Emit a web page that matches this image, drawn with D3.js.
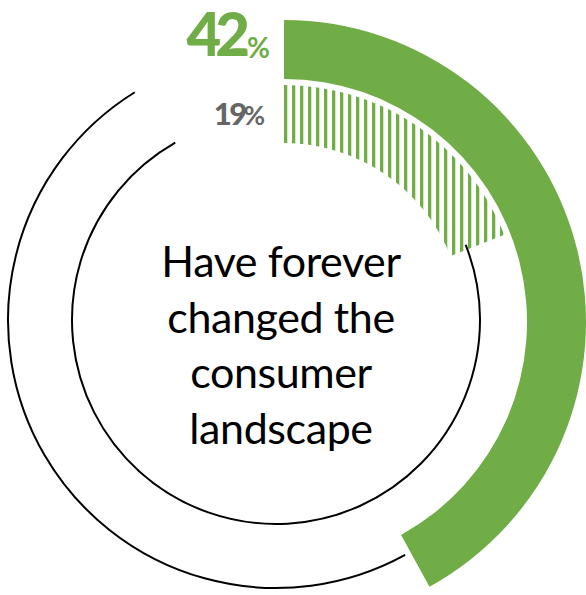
<!DOCTYPE html>
<html>
<head>
<meta charset="utf-8">
<script src="https://cdn.jsdelivr.net/npm/d3@7"></script>
<style>
  html, body { margin: 0; padding: 0; background: #fff; }
  svg { display: block; }
</style>
</head>
<body>
<svg id="chart" width="586" height="595"></svg>
<script>
// Share of respondents per ring (percent), outer ring first
const rings = ["outer", "inner"];
const values = [42, 19];
const valueLabels = ["42", "19"];
const centerText = ["Have forever", "changed the", "consumer", "landscape"];

const green = "#70ad47";
const svg = d3.select("#chart");

// full turn = 100%
const angle = d3.scaleLinear().domain([0, 100]).range([0, 2 * Math.PI]);

// ring geometry: bands for the coloured value arcs, thin track radius
const bandCenter = { x: 284, y: 322 };
const trackCenter = { x: 276, y: 320 };
const band = { outer: [243, 302], inner: [179, 237] };
const track = { outer: 268, inner: 204 };
const trackEnd = { outer: 328.2, inner: 330.4 }; // degrees

// vertical hatch for the inner ring, aligned with the ring's start edge
svg.append("defs").append("pattern")
  .attr("id", "hatch")
  .attr("patternUnits", "userSpaceOnUse")
  .attr("x", 0).attr("y", 0)
  .attr("width", 8).attr("height", 8)
  .append("rect")
  .attr("width", 3.3).attr("height", 8)
  .attr("fill", green);

const arc = d3.arc();

// thin black tracks: from the end of each value arc round to the gap at top-left
const tracks = svg.append("g")
  .attr("transform", `translate(${trackCenter.x},${trackCenter.y})`);
rings.forEach((r, i) => {
  tracks.append("path")
    .attr("d", arc({
      innerRadius: track[r], outerRadius: track[r],
      startAngle: angle(values[i]),
      endAngle: trackEnd[r] * Math.PI / 180
    }))
    .attr("fill", "none")
    .attr("stroke", "#000")
    .attr("stroke-width", 2);
});

// value arcs: solid outer ring, hatched inner ring
const bands = svg.append("g")
  .attr("transform", `translate(${bandCenter.x},${bandCenter.y})`);
rings.forEach((r, i) => {
  bands.append("path")
    .attr("d", arc({
      innerRadius: band[r][0], outerRadius: band[r][1],
      startAngle: 0, endAngle: angle(values[i])
    }))
    .attr("fill", r === "outer" ? green : "url(#hatch)");
});

// value labels at the start of each ring
const font = "Lato, 'Century Gothic', sans-serif";
const big = svg.append("text")
  .attr("x", 270).attr("y", 56)
  .attr("text-anchor", "end")
  .attr("font-family", font)
  .attr("fill", green);
big.append("tspan").attr("font-size", 60).attr("font-weight", 900)
  .attr("letter-spacing", -6).text(valueLabels[0]);
big.append("tspan").attr("font-size", 28).attr("font-weight", 700)
  .attr("dx", 3).attr("dy", 2).text("%");

const small = svg.append("text")
  .attr("x", 265).attr("y", 125)
  .attr("text-anchor", "end")
  .attr("font-family", font)
  .attr("fill", "#666");
small.append("tspan").attr("font-size", 31).attr("font-weight", 900)
  .attr("letter-spacing", -2.5).text(valueLabels[1]);
small.append("tspan").attr("font-size", 26).attr("font-weight", 700)
  .attr("dx", -1).text("%");

// centre caption
const caption = svg.append("text")
  .attr("text-anchor", "middle")
  .attr("font-family", font)
  .attr("font-size", 43)
  .attr("font-weight", 400)
  .attr("letter-spacing", -0.4)
  .attr("fill", "#000");
centerText.forEach((line, i) => {
  caption.append("tspan")
    .attr("x", 281)
    .attr("y", 277 + i * 55.5)
    .text(line);
});
</script>
</body>
</html>
